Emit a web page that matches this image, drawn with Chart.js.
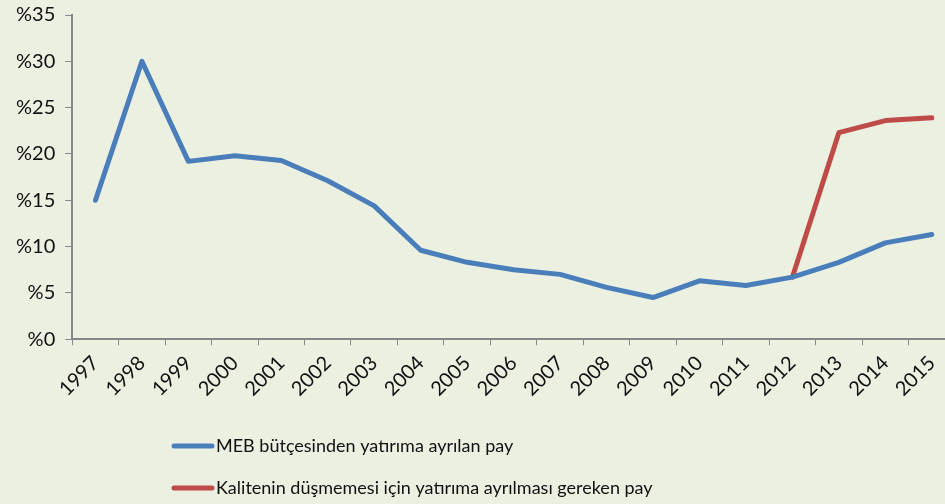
<!DOCTYPE html>
<html>
<head>
<meta charset="utf-8">
<script src="https://cdn.jsdelivr.net/npm/chart.js@4/dist/chart.umd.min.js"></script>
<style>
  html, body { margin: 0; padding: 0; background: #ecf0e1; overflow: hidden; }
  #wrap { width: 955px; height: 504px; }
</style>
</head>
<body>
<div id="wrap"><canvas id="myChart"></canvas></div>
<script>
const years = ['1997', '1998', '1999', '2000', '2001', '2002', '2003', '2004', '2005', '2006',
               '2007', '2008', '2009', '2010', '2011', '2012', '2013', '2014', '2015'];
const mebShare = [15.0, 30.0, 19.2, 19.8, 19.3, 17.1, 14.4, 9.6, 8.3, 7.5,
                  7.0, 5.6, 4.5, 6.3, 5.8, 6.7, 8.3, 10.4, 11.3];
const requiredShare = [null, null, null, null, null, null, null, null, null, null,
                       null, null, null, null, null, 6.7, 22.3, 23.6, 23.9];
const seriesNames = ['MEB bütçesinden yatırıma ayrılan pay',
                     'Kalitenin düşmemesi için yatırıma ayrılması gereken pay'];
const yMax = 35;
const yStep = 5;

const axisGray = '#868686';
const font = "Lato, 'Open Sans', sans-serif";

// legend stacked under the axis, drawn by hand
const stackedLegend = {
    id: 'stackedLegend',
    afterDraw(chart) {
        let ctx = chart.ctx;
        ctx.save();
        chart.data.datasets.forEach((ds, i) => {
            let y = 446 + i * 42;
            ctx.strokeStyle = ds.borderColor;
            ctx.lineWidth = 5;
            ctx.lineCap = 'round';
            ctx.beginPath();
            ctx.moveTo(174, y);
            ctx.lineTo(212, y);
            ctx.stroke();
            ctx.fillStyle = '#111';
            ctx.font = '18px ' + font;
            ctx.textBaseline = 'middle';
            ctx.fillText(ds.label, 216, y);
        });
        ctx.restore();
    }
};

let ctx = document.getElementById('myChart');
let myChart = new Chart(ctx, {
    type: 'line',
    data: {
        labels: years,
        datasets: [{
            label: seriesNames[0],
            data: mebShare,
            borderColor: '#4a7ebb',
            borderWidth: 5,
            pointRadius: 0,
            borderCapStyle: 'round',
            borderJoinStyle: 'round'
        }, {
            label: seriesNames[1],
            data: requiredShare,
            borderColor: '#be4b48',
            borderWidth: 5,
            pointRadius: 0,
            borderCapStyle: 'round',
            borderJoinStyle: 'round'
        }]
    },
    options: {
        responsive: true,
        maintainAspectRatio: false,
        animation: false,
        layout: { padding: { left: 6, top: 0, right: 0, bottom: 97 } },
        plugins: {
            legend: { display: false },
            tooltip: { enabled: false }
        },
        scales: {
            x: {
                offset: true,
                grid: { offset: true, drawOnChartArea: false, drawTicks: true, tickLength: 6, color: axisGray },
                border: { color: axisGray, width: 2 },
                ticks: {
                    color: '#111',
                    font: { family: font, size: 20 },
                    minRotation: 45,
                    maxRotation: 45,
                    padding: 6,
                    autoSkip: false
                }
            },
            y: {
                min: 0,
                max: yMax,
                grid: { drawOnChartArea: false, drawTicks: true, tickLength: 7, color: axisGray },
                border: { color: axisGray, width: 2 },
                ticks: {
                    stepSize: yStep,
                    color: '#111',
                    padding: 10,
                    font: { family: font, size: 20, lineHeight: 0.5 },
                    callback: v => '%' + v
                }
            }
        }
    },
    plugins: [stackedLegend]
});
</script>
</body>
</html>
